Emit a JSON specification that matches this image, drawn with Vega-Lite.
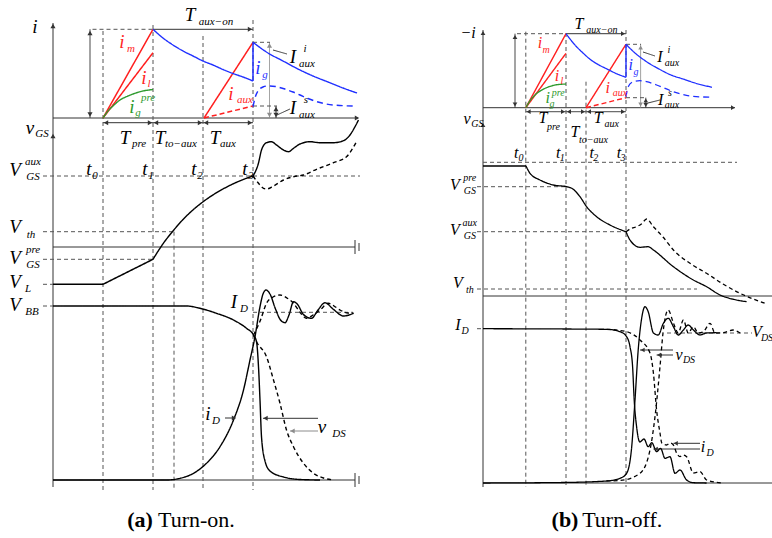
{
"$schema":"https://vega.github.io/schema/vega-lite/v6.json",
"padding":0,"spacing":65,"background":"white",
"config":{"view":{"stroke":null}},
"datasets":{
"aSeg":[
{"x":0,"y":46,"x2":0,"y2":-0.4,"s":"ax"},{"x":0,"y":36.5,"x2":6.1,"y2":36.5,"s":"ax"},{"x":0,"y":23.6,"x2":6.04,"y2":23.6,"s":"ax"},
{"x":6.04,"y":24.3,"x2":6.04,"y2":22.9,"s":"ax"},{"x":6.12,"y":24.0,"x2":6.12,"y2":23.2,"s":"ax"},
{"x":0,"y":0.3,"x2":6.04,"y2":0.3,"s":"ax"},{"x":6.04,"y":1.0,"x2":6.04,"y2":-0.4,"s":"ax"},{"x":6.12,"y":0.7,"x2":6.12,"y2":-0.1,"s":"ax"},
{"x":0.74,"y":45.37,"x2":0.74,"y2":36.5,"s":"ax"},{"x":2,"y":45.37,"x2":4,"y2":45.37,"s":"ax"},{"x":1,"y":36.03,"x2":4,"y2":36.03,"s":"ax"},
{"x":3.44,"y":6.5,"x2":3.64,"y2":6.5,"s":"ax"},{"x":5.3,"y":6.47,"x2":4.2,"y2":6.47,"s":"ax"},{"x":5.3,"y":5.2,"x2":4.74,"y2":5.2,"s":"gray"},
{"x":4.4,"y":43.3,"x2":4.68,"y2":42.9,"s":"ax"},{"x":4.48,"y":36.8,"x2":4.74,"y2":37.4,"s":"ax"},
{"x":4.33,"y":44.07,"x2":4.33,"y2":36.5,"s":"gray"},{"x":4.46,"y":37.7,"x2":4.46,"y2":36.5,"s":"ax"},
{"x":1,"y":45.2,"x2":1,"y2":-0.7,"s":"gd"},{"x":2,"y":45.8,"x2":2,"y2":-0.7,"s":"gd"},{"x":2.42,"y":25.13,"x2":2.42,"y2":-0.7,"s":"gd"},
{"x":3,"y":44.7,"x2":3,"y2":-0.7,"s":"gd"},{"x":4,"y":46.3,"x2":4,"y2":-0.7,"s":"gd"},
{"x":0.79,"y":45.37,"x2":2,"y2":45.37,"s":"gd"},{"x":-0.2,"y":30.7,"x2":6.14,"y2":30.7,"s":"gd"},{"x":-0.2,"y":25.13,"x2":2.42,"y2":25.13,"s":"gd"},
{"x":-0.2,"y":22.37,"x2":2,"y2":22.37,"s":"gd"},{"x":-0.2,"y":19.87,"x2":0,"y2":19.87,"s":"gd"},{"x":-0.2,"y":17.7,"x2":0,"y2":17.7,"s":"gd"},
{"x":4,"y":17.07,"x2":6.0,"y2":17.07,"s":"gd"},{"x":4,"y":44.07,"x2":4.34,"y2":44.07,"s":"gd"},{"x":4,"y":37.7,"x2":4.48,"y2":37.7,"s":"gd"}
],
"aSig":[
{"x":1,"y":36.5,"x2":2,"y2":45.37,"s":"red"},{"x":1,"y":36.5,"x2":2,"y2":43.03,"s":"red"},{"x":3.02,"y":36.5,"x2":4,"y2":44.07,"s":"red"},
{"x":3.02,"y":36.5,"x2":4,"y2":37.7,"s":"rd"},{"x":4,"y":40.2,"x2":4,"y2":44.07,"s":"blue"},
{"x":0,"y":19.87,"x2":1,"y2":19.87,"s":"cv"},{"x":1,"y":19.87,"x2":2,"y2":22.37,"s":"cv"}
],
"aCur":[
{"id":"igpre","s":"grn","x":1,"y":36.5},{"id":"igpre","s":"grn","x":1.1,"y":37.2},{"id":"igpre","s":"grn","x":1.2,"y":37.7},{"id":"igpre","s":"grn","x":1.34,"y":38.3},{"id":"igpre","s":"grn","x":1.5,"y":38.7},{"id":"igpre","s":"grn","x":1.6,"y":38.9},{"id":"igpre","s":"grn","x":1.8,"y":39.2},{"id":"igpre","s":"grn","x":2,"y":39.35},
{"id":"ig1","s":"blue","x":2,"y":45.37},{"id":"ig1","s":"blue","x":2.2,"y":44.5},{"id":"ig1","s":"blue","x":2.4,"y":43.8},{"id":"ig1","s":"blue","x":2.6,"y":43.2},{"id":"ig1","s":"blue","x":2.8,"y":42.7},{"id":"ig1","s":"blue","x":3.0,"y":42.2},{"id":"ig1","s":"blue","x":3.2,"y":41.8},{"id":"ig1","s":"blue","x":3.4,"y":41.35},{"id":"ig1","s":"blue","x":3.6,"y":40.95},{"id":"ig1","s":"blue","x":3.8,"y":40.6},{"id":"ig1","s":"blue","x":4,"y":40.2},
{"id":"ig2","s":"blue","x":4,"y":44.07},{"id":"ig2","s":"blue","x":4.3,"y":43.0},{"id":"ig2","s":"blue","x":4.6,"y":42.2},{"id":"ig2","s":"blue","x":4.9,"y":41.4},{"id":"ig2","s":"blue","x":5.2,"y":40.7},{"id":"ig2","s":"blue","x":5.5,"y":40.1},{"id":"ig2","s":"blue","x":5.8,"y":39.5},{"id":"ig2","s":"blue","x":6.08,"y":39.0},
{"id":"igd","s":"bd","x":4,"y":37.63},{"id":"igd","s":"bd","x":4.04,"y":38.5},{"id":"igd","s":"bd","x":4.1,"y":39.2},{"id":"igd","s":"bd","x":4.2,"y":39.6},{"id":"igd","s":"bd","x":4.3,"y":39.7},{"id":"igd","s":"bd","x":4.45,"y":39.65},{"id":"igd","s":"bd","x":4.6,"y":39.45},{"id":"igd","s":"bd","x":4.8,"y":39.1},{"id":"igd","s":"bd","x":4.94,"y":38.8},{"id":"igd","s":"bd","x":5.1,"y":38.45},{"id":"igd","s":"bd","x":5.28,"y":38.13},{"id":"igd","s":"bd","x":5.6,"y":37.8},{"id":"igd","s":"bd","x":6.0,"y":37.7},
{"id":"vgs","s":"cv","x":2,"y":22.37},{"id":"vgs","s":"cv","x":2.1,"y":23.17},{"id":"vgs","s":"cv","x":2.2,"y":23.92},{"id":"vgs","s":"cv","x":2.4,"y":25.2},{"id":"vgs","s":"cv","x":2.6,"y":26.35},{"id":"vgs","s":"cv","x":2.8,"y":27.31},{"id":"vgs","s":"cv","x":3.0,"y":28.12},{"id":"vgs","s":"cv","x":3.2,"y":28.81},{"id":"vgs","s":"cv","x":3.4,"y":29.4},{"id":"vgs","s":"cv","x":3.6,"y":29.91},{"id":"vgs","s":"cv","x":3.8,"y":30.34},{"id":"vgs","s":"cv","x":4,"y":30.7},
{"id":"vgs2","s":"cv","x":4,"y":30.7},{"id":"vgs2","s":"cv","x":4.11,"y":32.0},{"id":"vgs2","s":"cv","x":4.17,"y":33.3},{"id":"vgs2","s":"cv","x":4.27,"y":34.03},{"id":"vgs2","s":"cv","x":4.37,"y":34.13},{"id":"vgs2","s":"cv","x":4.47,"y":33.8},{"id":"vgs2","s":"cv","x":4.61,"y":33.3},{"id":"vgs2","s":"cv","x":4.71,"y":33.13},{"id":"vgs2","s":"cv","x":4.81,"y":33.47},{"id":"vgs2","s":"cv","x":4.94,"y":33.9},{"id":"vgs2","s":"cv","x":5.14,"y":34.13},{"id":"vgs2","s":"cv","x":5.34,"y":34.03},{"id":"vgs2","s":"cv","x":5.61,"y":34.03},{"id":"vgs2","s":"cv","x":5.81,"y":34.23},{"id":"vgs2","s":"cv","x":5.94,"y":34.8},{"id":"vgs2","s":"cv","x":6.04,"y":35.63},{"id":"vgs2","s":"cv","x":6.11,"y":36.3},
{"id":"vgsd","s":"cd","x":4,"y":30.7},{"id":"vgsd","s":"cd","x":4.11,"y":29.97},{"id":"vgsd","s":"cd","x":4.21,"y":29.47},{"id":"vgsd","s":"cd","x":4.27,"y":29.4},{"id":"vgsd","s":"cd","x":4.41,"y":29.7},{"id":"vgsd","s":"cd","x":4.61,"y":30.3},{"id":"vgsd","s":"cd","x":4.81,"y":30.63},{"id":"vgsd","s":"cd","x":5.01,"y":30.8},{"id":"vgsd","s":"cd","x":5.27,"y":31.37},{"id":"vgsd","s":"cd","x":5.61,"y":32.03},{"id":"vgsd","s":"cd","x":5.87,"y":32.63},{"id":"vgsd","s":"cd","x":6.07,"y":34.13},
{"id":"vds","s":"cv","x":0,"y":17.7},{"id":"vds","s":"cv","x":2.67,"y":17.7},{"id":"vds","s":"cv","x":2.94,"y":17.47},{"id":"vds","s":"cv","x":3.27,"y":16.97},{"id":"vds","s":"cv","x":3.61,"y":16.3},{"id":"vds","s":"cv","x":3.87,"y":15.47},{"id":"vds","s":"cv","x":4.01,"y":14.8},{"id":"vds","s":"cv","x":4.07,"y":14.13},{"id":"vds","s":"cv","x":4.11,"y":11.63},{"id":"vds","s":"cv","x":4.14,"y":8.3},{"id":"vds","s":"cv","x":4.17,"y":4.63},{"id":"vds","s":"cv","x":4.24,"y":2.2},{"id":"vds","s":"cv","x":4.34,"y":1.2},{"id":"vds","s":"cv","x":4.61,"y":0.6},{"id":"vds","s":"cv","x":4.94,"y":0.35},{"id":"vds","s":"cv","x":5.34,"y":0.3},
{"id":"vdsd","s":"cd","x":4.01,"y":14.8},{"id":"vdsd","s":"cd","x":4.07,"y":14.13},{"id":"vdsd","s":"cd","x":4.27,"y":12.63},{"id":"vdsd","s":"cd","x":4.41,"y":10.3},{"id":"vdsd","s":"cd","x":4.54,"y":7.97},{"id":"vdsd","s":"cd","x":4.67,"y":5.3},{"id":"vdsd","s":"cd","x":4.81,"y":3.63},{"id":"vdsd","s":"cd","x":5.01,"y":1.97},{"id":"vdsd","s":"cd","x":5.21,"y":0.97},{"id":"vdsd","s":"cd","x":5.41,"y":0.5},{"id":"vdsd","s":"cd","x":5.61,"y":0.3},
{"id":"id","s":"cv","x":0,"y":0.3},{"id":"id","s":"cv","x":2.27,"y":0.3},{"id":"id","s":"cv","x":2.54,"y":0.47},{"id":"id","s":"cv","x":2.81,"y":0.97},{"id":"id","s":"cv","x":3.07,"y":1.97},{"id":"id","s":"cv","x":3.34,"y":3.63},{"id":"id","s":"cv","x":3.61,"y":6.3},{"id":"id","s":"cv","x":3.81,"y":9.3},{"id":"id","s":"cv","x":3.94,"y":12.3},{"id":"id","s":"cv","x":4.04,"y":14.63},{"id":"id","s":"cv","x":4.14,"y":17.63},{"id":"id","s":"cv","x":4.2,"y":18.9},{"id":"id","s":"cv","x":4.26,"y":19.3},{"id":"id","s":"cv","x":4.34,"y":18.9},{"id":"id","s":"cv","x":4.45,"y":17.4},{"id":"id","s":"cv","x":4.55,"y":16.3},{"id":"id","s":"cv","x":4.64,"y":16.03},{"id":"id","s":"cv","x":4.72,"y":16.8},{"id":"id","s":"cv","x":4.81,"y":18.13},{"id":"id","s":"cv","x":4.9,"y":17.8},{"id":"id","s":"cv","x":5.0,"y":16.9},{"id":"id","s":"cv","x":5.17,"y":16.47},{"id":"id","s":"cv","x":5.3,"y":17.3},{"id":"id","s":"cv","x":5.44,"y":18.03},{"id":"id","s":"cv","x":5.6,"y":17.4},{"id":"id","s":"cv","x":5.81,"y":16.7},{"id":"id","s":"cv","x":6.01,"y":16.97},
{"id":"idd","s":"cd","x":4.01,"y":14.8},{"id":"idd","s":"cd","x":4.15,"y":16.3},{"id":"idd","s":"cd","x":4.27,"y":17.97},{"id":"idd","s":"cd","x":4.4,"y":18.6},{"id":"idd","s":"cd","x":4.54,"y":18.8},{"id":"idd","s":"cd","x":4.68,"y":18.5},{"id":"idd","s":"cd","x":4.81,"y":17.97},{"id":"idd","s":"cd","x":4.95,"y":17.0},{"id":"idd","s":"cd","x":5.07,"y":16.47},{"id":"idd","s":"cd","x":5.2,"y":16.8},{"id":"idd","s":"cd","x":5.34,"y":17.3},{"id":"idd","s":"cd","x":5.51,"y":17.97},{"id":"idd","s":"cd","x":5.62,"y":17.7},{"id":"idd","s":"cd","x":5.74,"y":17.3},{"id":"idd","s":"cd","x":5.9,"y":17.0},{"id":"idd","s":"cd","x":6.01,"y":16.97}
],
"aArr":[
{"x":0,"y":45.7,"d":"u","s":"ax"},{"x":0,"y":34.7,"d":"u","s":"ax"},{"x":6.08,"y":36.5,"d":"r","s":"ax"},
{"x":0.74,"y":45.0,"d":"u","s":"ax"},{"x":0.74,"y":36.85,"d":"d","s":"ax"},{"x":3.94,"y":45.37,"d":"r","s":"ax"},
{"x":1.06,"y":36.03,"d":"l","s":"ax"},{"x":1.94,"y":36.03,"d":"r","s":"ax"},{"x":2.06,"y":36.03,"d":"l","s":"ax"},{"x":2.94,"y":36.03,"d":"r","s":"ax"},{"x":3.06,"y":36.03,"d":"l","s":"ax"},{"x":3.94,"y":36.03,"d":"r","s":"ax"},
{"x":4.33,"y":43.75,"d":"u","s":"gray"},{"x":4.33,"y":36.8,"d":"d","s":"gray"},{"x":4.46,"y":37.4,"d":"u","s":"ax"},{"x":4.46,"y":36.8,"d":"d","s":"ax"},
{"x":3.62,"y":6.5,"d":"r","s":"ax"},{"x":4.25,"y":6.47,"d":"l","s":"ax"},{"x":4.79,"y":5.2,"d":"l","s":"gray"}
],
"aTxt":[
{"x":-0.36,"y":45.6,"t":"i","r":"m","s":"cv"},
{"x":-0.46,"y":35.5,"t":"v","r":"m","s":"cv"},{"x":-0.22,"y":34.9,"t":"GS","r":"s","s":"cv"},
{"x":-0.76,"y":31.3,"t":"V","r":"m","s":"cv"},{"x":-0.4,"y":32.1,"t":"aux","r":"s","s":"cv"},{"x":-0.4,"y":30.6,"t":"GS","r":"s","s":"cv"},
{"x":0.72,"y":31.4,"t":"t","r":"m","s":"cv"},{"x":0.84,"y":30.7,"t":"0","r":"s","s":"cv"},
{"x":1.84,"y":31.4,"t":"t","r":"m","s":"cv"},{"x":1.96,"y":30.7,"t":"1","r":"s","s":"cv"},
{"x":2.82,"y":31.4,"t":"t","r":"m","s":"cv"},{"x":2.94,"y":30.7,"t":"2","r":"s","s":"cv"},
{"x":3.84,"y":31.4,"t":"t","r":"m","s":"cv"},{"x":3.96,"y":30.7,"t":"3","r":"s","s":"cv"},
{"x":-0.76,"y":25.6,"t":"V","r":"m","s":"cv"},{"x":-0.44,"y":24.8,"t":"th","r":"s","s":"cv"},
{"x":-0.76,"y":22.5,"t":"V","r":"m","s":"cv"},{"x":-0.4,"y":23.3,"t":"pre","r":"s","s":"cv"},{"x":-0.4,"y":21.8,"t":"GS","r":"s","s":"cv"},
{"x":-0.76,"y":20.1,"t":"V","r":"m","s":"cv"},{"x":-0.5,"y":19.4,"t":"L","r":"s","s":"cv"},
{"x":-0.76,"y":17.8,"t":"V","r":"m","s":"cv"},{"x":-0.42,"y":17.1,"t":"BB","r":"s","s":"cv"},
{"x":3.62,"y":18.1,"t":"I","r":"m","s":"cv"},{"x":3.82,"y":17.4,"t":"D","r":"s","s":"cv"},
{"x":3.1,"y":6.9,"t":"i","r":"m","s":"cv"},{"x":3.26,"y":6.2,"t":"D","r":"s","s":"cv"},
{"x":5.38,"y":5.6,"t":"v","r":"m","s":"cv"},{"x":5.72,"y":4.9,"t":"DS","r":"s","s":"cv"},
{"x":1.38,"y":44.1,"t":"i","r":"m","s":"red"},{"x":1.56,"y":43.4,"t":"m","r":"s","s":"red"},
{"x":1.82,"y":40.5,"t":"i","r":"m","s":"red"},{"x":1.92,"y":39.9,"t":"l","r":"s","s":"red"},
{"x":1.58,"y":37.6,"t":"i","r":"m","s":"grn"},{"x":1.7,"y":37.0,"t":"g","r":"s","s":"grn"},{"x":1.9,"y":38.5,"t":"pre","r":"s","s":"grn"},
{"x":4.1,"y":41.5,"t":"i","r":"m","s":"blue"},{"x":4.24,"y":40.8,"t":"g","r":"s","s":"blue"},
{"x":3.56,"y":38.9,"t":"i","r":"m","s":"red"},{"x":3.84,"y":38.3,"t":"aux","r":"s","s":"red"},
{"x":4.8,"y":42.6,"t":"I","r":"m","s":"cv"},{"x":5.04,"y":43.4,"t":"i","r":"s","s":"cv"},{"x":5.08,"y":41.9,"t":"aux","r":"s","s":"cv"},
{"x":4.8,"y":37.5,"t":"I","r":"m","s":"cv"},{"x":5.06,"y":38.3,"t":"s","r":"s","s":"cv"},{"x":5.08,"y":36.8,"t":"aux","r":"s","s":"cv"},
{"x":2.74,"y":46.8,"t":"T","r":"m","s":"cv"},{"x":3.26,"y":46.1,"t":"aux−on","r":"s","s":"cv"},
{"x":1.44,"y":34.5,"t":"T","r":"m","s":"cv"},{"x":1.72,"y":33.9,"t":"pre","r":"s","s":"cv"},
{"x":2.14,"y":34.5,"t":"T","r":"m","s":"cv"},{"x":2.56,"y":33.9,"t":"to−aux","r":"s","s":"cv"},
{"x":3.24,"y":34.5,"t":"T","r":"m","s":"cv"},{"x":3.5,"y":33.9,"t":"aux","r":"s","s":"cv"},
{"x":1.74,"y":-3.7,"t":"(a)","r":"b","s":"cv"},{"x":2.1,"y":-3.7,"t":"Turn-on.","r":"c","s":"cv"}
],
"bSeg":[
{"x":0,"y":45.3,"x2":0,"y2":-0.4,"s":"ax"},{"x":0,"y":37.53,"x2":6.3,"y2":37.53,"s":"ax"},{"x":0,"y":18.7,"x2":7.225,"y2":18.7,"s":"ax"},{"x":0,"y":0,"x2":7.225,"y2":0,"s":"ax"},
{"x":0.8,"y":44.93,"x2":0.8,"y2":37.53,"s":"ax"},{"x":2.075,"y":44.93,"x2":3.575,"y2":44.93,"s":"ax"},{"x":1.07,"y":37.13,"x2":3.575,"y2":37.13,"s":"ax"},
{"x":3.94,"y":43.87,"x2":3.94,"y2":37.53,"s":"gray"},{"x":4.07,"y":38.53,"x2":4.07,"y2":37.53,"s":"ax"},
{"x":4.0,"y":43.1,"x2":4.3,"y2":42.7,"s":"ax"},{"x":4.125,"y":38.0,"x2":4.425,"y2":38.3,"s":"ax"},
{"x":4.75,"y":13.3,"x2":3.925,"y2":13.3,"s":"ax"},{"x":4.75,"y":12.8,"x2":4.34,"y2":12.8,"s":"ax"},
{"x":5.425,"y":3.97,"x2":4.76,"y2":3.97,"s":"ax"},{"x":5.425,"y":3.4,"x2":4.26,"y2":3.4,"s":"ax"},
{"x":1.07,"y":45.13,"x2":1.07,"y2":-0.4,"s":"gd"},{"x":2.075,"y":45.0,"x2":2.075,"y2":-0.4,"s":"gd"},{"x":2.575,"y":40.13,"x2":2.575,"y2":-0.4,"s":"gd"},{"x":3.575,"y":45.3,"x2":3.575,"y2":-0.4,"s":"gd"},
{"x":0.85,"y":44.93,"x2":2.075,"y2":44.93,"s":"gd"},{"x":0,"y":32.07,"x2":6.35,"y2":32.07,"s":"gd"},{"x":-0.15,"y":29.63,"x2":2.075,"y2":29.63,"s":"gd"},
{"x":-0.15,"y":25.13,"x2":3.575,"y2":25.13,"s":"gd"},{"x":-0.15,"y":19.4,"x2":5.35,"y2":19.4,"s":"gd"},{"x":-0.15,"y":15.43,"x2":0,"y2":15.43,"s":"gd"},
{"x":4.6,"y":15.0,"x2":6.725,"y2":15.0,"s":"gd"},{"x":3.575,"y":43.87,"x2":3.95,"y2":43.87,"s":"gd"},{"x":3.575,"y":38.53,"x2":4.075,"y2":38.53,"s":"gd"}
],
"bSig":[
{"x":1.07,"y":37.53,"x2":2.075,"y2":44.93,"s":"red"},{"x":1.07,"y":37.53,"x2":2.075,"y2":42.97,"s":"red"},{"x":2.575,"y":37.53,"x2":3.575,"y2":43.87,"s":"red"},
{"x":2.575,"y":37.53,"x2":3.575,"y2":38.53,"s":"rd"},{"x":3.575,"y":40.57,"x2":3.575,"y2":43.87,"s":"blue"},{"x":0,"y":31.7,"x2":1.075,"y2":31.7,"s":"cv"}
],
"bCur":[
{"id":"igpre","s":"grn","x":1.07,"y":37.53},{"id":"igpre","s":"grn","x":1.17,"y":38.2},{"id":"igpre","s":"grn","x":1.3,"y":38.8},{"id":"igpre","s":"grn","x":1.45,"y":39.25},{"id":"igpre","s":"grn","x":1.6,"y":39.55},{"id":"igpre","s":"grn","x":1.8,"y":39.8},{"id":"igpre","s":"grn","x":2.075,"y":39.9},
{"id":"ig1","s":"blue","x":2.075,"y":44.93},{"id":"ig1","s":"blue","x":2.3,"y":43.8},{"id":"ig1","s":"blue","x":2.5,"y":43.0},{"id":"ig1","s":"blue","x":2.7,"y":42.3},{"id":"ig1","s":"blue","x":2.9,"y":41.8},{"id":"ig1","s":"blue","x":3.1,"y":41.4},{"id":"ig1","s":"blue","x":3.3,"y":41.0},{"id":"ig1","s":"blue","x":3.575,"y":40.57},
{"id":"ig2","s":"blue","x":3.575,"y":43.87},{"id":"ig2","s":"blue","x":3.8,"y":43.0},{"id":"ig2","s":"blue","x":4.1,"y":42.1},{"id":"ig2","s":"blue","x":4.4,"y":41.4},{"id":"ig2","s":"blue","x":4.7,"y":40.8},{"id":"ig2","s":"blue","x":5.0,"y":40.4},{"id":"ig2","s":"blue","x":5.3,"y":40.0},{"id":"ig2","s":"blue","x":5.725,"y":39.57},
{"id":"igd","s":"bd","x":3.575,"y":38.63},{"id":"igd","s":"bd","x":3.63,"y":39.63},{"id":"igd","s":"bd","x":3.76,"y":40.13},{"id":"igd","s":"bd","x":3.925,"y":40.23},{"id":"igd","s":"bd","x":4.09,"y":40.13},{"id":"igd","s":"bd","x":4.34,"y":39.8},{"id":"igd","s":"bd","x":4.76,"y":39.13},{"id":"igd","s":"bd","x":5.175,"y":38.7},{"id":"igd","s":"bd","x":5.725,"y":38.57},
{"id":"vgs","s":"cv","x":1.075,"y":31.7},{"id":"vgs","s":"cv","x":1.175,"y":30.97},{"id":"vgs","s":"cv","x":1.425,"y":30.3},{"id":"vgs","s":"cv","x":1.76,"y":29.8},{"id":"vgs","s":"cv","x":2.09,"y":29.63},{"id":"vgs","s":"cv","x":2.22,"y":29.47},{"id":"vgs","s":"cv","x":2.425,"y":28.63},{"id":"vgs","s":"cv","x":2.59,"y":27.63},{"id":"vgs","s":"cv","x":2.84,"y":26.63},{"id":"vgs","s":"cv","x":3.175,"y":25.8},{"id":"vgs","s":"cv","x":3.575,"y":25.13},
{"id":"vgs2","s":"cv","x":3.575,"y":25.13},{"id":"vgs2","s":"cv","x":3.675,"y":24.3},{"id":"vgs2","s":"cv","x":3.925,"y":23.57},{"id":"vgs2","s":"cv","x":4.13,"y":23.63},{"id":"vgs2","s":"cv","x":4.26,"y":23.3},{"id":"vgs2","s":"cv","x":4.76,"y":21.63},{"id":"vgs2","s":"cv","x":5.26,"y":20.3},{"id":"vgs2","s":"cv","x":5.59,"y":19.63},{"id":"vgs2","s":"cv","x":5.925,"y":18.8},{"id":"vgs2","s":"cv","x":6.26,"y":18.37},{"id":"vgs2","s":"cv","x":6.59,"y":18.13},
{"id":"vgsd","s":"cd","x":3.575,"y":25.13},{"id":"vgsd","s":"cd","x":3.7,"y":25.45},{"id":"vgsd","s":"cd","x":3.84,"y":25.63},{"id":"vgsd","s":"cd","x":3.96,"y":25.9},{"id":"vgsd","s":"cd","x":4.09,"y":26.4},{"id":"vgsd","s":"cd","x":4.26,"y":25.63},{"id":"vgsd","s":"cd","x":4.5,"y":24.6},{"id":"vgsd","s":"cd","x":4.76,"y":23.3},{"id":"vgsd","s":"cd","x":5.2,"y":21.9},{"id":"vgsd","s":"cd","x":5.59,"y":20.97},{"id":"vgsd","s":"cd","x":6.0,"y":19.9},{"id":"vgsd","s":"cd","x":6.425,"y":18.97},{"id":"vgsd","s":"cd","x":7.05,"y":17.97},
{"id":"id","s":"cv","x":0,"y":15.43},{"id":"id","s":"cv","x":3.09,"y":15.37},{"id":"id","s":"cv","x":3.425,"y":15.13},{"id":"id","s":"cv","x":3.59,"y":14.63},{"id":"id","s":"cv","x":3.675,"y":13.63},{"id":"id","s":"cv","x":3.74,"y":11.63},{"id":"id","s":"cv","x":3.78,"y":8.3},{"id":"id","s":"cv","x":3.84,"y":5.63},{"id":"id","s":"cv","x":3.92,"y":4.1},{"id":"id","s":"cv","x":4.025,"y":4.4},{"id":"id","s":"cv","x":4.13,"y":3.63},{"id":"id","s":"cv","x":4.22,"y":4.03},{"id":"id","s":"cv","x":4.34,"y":3.13},{"id":"id","s":"cv","x":4.44,"y":3.47},{"id":"id","s":"cv","x":4.55,"y":2.47},{"id":"id","s":"cv","x":4.675,"y":2.63},{"id":"id","s":"cv","x":4.8,"y":0.97},{"id":"id","s":"cv","x":4.925,"y":1.3},{"id":"id","s":"cv","x":5.09,"y":0.3},{"id":"id","s":"cv","x":5.26,"y":0.03},{"id":"id","s":"cv","x":5.59,"y":0},
{"id":"vds","s":"cv","x":0,"y":0},{"id":"vds","s":"cv","x":2.0,"y":0.05},{"id":"vds","s":"cv","x":3.09,"y":0.2},{"id":"vds","s":"cv","x":3.425,"y":0.47},{"id":"vds","s":"cv","x":3.59,"y":0.97},{"id":"vds","s":"cv","x":3.71,"y":3.3},{"id":"vds","s":"cv","x":3.8,"y":8.3},{"id":"vds","s":"cv","x":3.88,"y":13.3},{"id":"vds","s":"cv","x":3.96,"y":16.3},{"id":"vds","s":"cv","x":4.05,"y":17.63},{"id":"vds","s":"cv","x":4.13,"y":17.13},{"id":"vds","s":"cv","x":4.26,"y":15.0},{"id":"vds","s":"cv","x":4.38,"y":14.8},{"id":"vds","s":"cv","x":4.51,"y":15.97},{"id":"vds","s":"cv","x":4.63,"y":16.47},{"id":"vds","s":"cv","x":4.76,"y":15.63},{"id":"vds","s":"cv","x":4.88,"y":14.8},{"id":"vds","s":"cv","x":5.01,"y":15.3},{"id":"vds","s":"cv","x":5.13,"y":15.8},{"id":"vds","s":"cv","x":5.26,"y":15.3},{"id":"vds","s":"cv","x":5.425,"y":14.8},{"id":"vds","s":"cv","x":5.59,"y":15.0},{"id":"vds","s":"cv","x":5.84,"y":15.03},
{"id":"idd","s":"cd","x":3.09,"y":15.37},{"id":"idd","s":"cd","x":3.59,"y":15.13},{"id":"idd","s":"cd","x":3.925,"y":14.3},{"id":"idd","s":"cd","x":4.175,"y":13.0},{"id":"idd","s":"cd","x":4.26,"y":11.0},{"id":"idd","s":"cd","x":4.34,"y":7.3},{"id":"idd","s":"cd","x":4.425,"y":5.0},{"id":"idd","s":"cd","x":4.47,"y":4.0},{"id":"idd","s":"cd","x":4.59,"y":3.8},{"id":"idd","s":"cd","x":4.675,"y":4.0},{"id":"idd","s":"cd","x":4.76,"y":3.8},{"id":"idd","s":"cd","x":4.84,"y":3.0},{"id":"idd","s":"cd","x":4.925,"y":2.63},{"id":"idd","s":"cd","x":5.0,"y":2.8},{"id":"idd","s":"cd","x":5.09,"y":2.63},{"id":"idd","s":"cd","x":5.26,"y":1.0},{"id":"idd","s":"cd","x":5.425,"y":1.13},{"id":"idd","s":"cd","x":5.59,"y":0.3},{"id":"idd","s":"cd","x":6.0,"y":0},
{"id":"vdsd","s":"cd","x":3.09,"y":0.2},{"id":"vdsd","s":"cd","x":3.425,"y":0.25},{"id":"vdsd","s":"cd","x":3.925,"y":0.97},{"id":"vdsd","s":"cd","x":4.175,"y":3.3},{"id":"vdsd","s":"cd","x":4.3,"y":6.63},{"id":"vdsd","s":"cd","x":4.425,"y":11.63},{"id":"vdsd","s":"cd","x":4.5,"y":15.0},{"id":"vdsd","s":"cd","x":4.63,"y":17.3},{"id":"vdsd","s":"cd","x":4.76,"y":16.0},{"id":"vdsd","s":"cd","x":4.88,"y":15.0},{"id":"vdsd","s":"cd","x":5.01,"y":16.3},{"id":"vdsd","s":"cd","x":5.13,"y":15.0},{"id":"vdsd","s":"cd","x":5.26,"y":15.63},{"id":"vdsd","s":"cd","x":5.38,"y":15.0},{"id":"vdsd","s":"cd","x":5.51,"y":15.13},{"id":"vdsd","s":"cd","x":5.675,"y":15.97},{"id":"vdsd","s":"cd","x":5.8,"y":15.0},{"id":"vdsd","s":"cd","x":6.0,"y":15.03},{"id":"vdsd","s":"cd","x":6.25,"y":15.3},{"id":"vdsd","s":"cd","x":6.425,"y":15.0}
],
"bArr":[
{"x":0,"y":45.0,"d":"u","s":"ax"},{"x":0,"y":35.8,"d":"u","s":"ax"},{"x":6.25,"y":37.53,"d":"r","s":"ax"},
{"x":0.8,"y":44.6,"d":"u","s":"ax"},{"x":0.8,"y":37.85,"d":"d","s":"ax"},{"x":3.5,"y":44.93,"d":"r","s":"ax"},
{"x":1.14,"y":37.13,"d":"l","s":"ax"},{"x":2.0,"y":37.13,"d":"r","s":"ax"},{"x":2.15,"y":37.13,"d":"l","s":"ax"},{"x":2.5,"y":37.13,"d":"r","s":"ax"},{"x":2.65,"y":37.13,"d":"l","s":"ax"},{"x":3.5,"y":37.13,"d":"r","s":"ax"},
{"x":3.94,"y":43.55,"d":"u","s":"gray"},{"x":3.94,"y":37.85,"d":"d","s":"gray"},{"x":4.07,"y":38.25,"d":"u","s":"ax"},{"x":4.07,"y":37.8,"d":"d","s":"ax"},
{"x":3.99,"y":13.3,"d":"l","s":"ax"},{"x":4.4,"y":12.8,"d":"l","s":"ax"},{"x":4.82,"y":3.97,"d":"l","s":"ax"},{"x":4.32,"y":3.4,"d":"l","s":"ax"}
],
"bTxt":[
{"x":-0.375,"y":45.0,"t":"−i","r":"m","s":"cv"},
{"x":-0.4,"y":36.4,"t":"v","r":"m","s":"cv"},{"x":-0.14,"y":35.9,"t":"GS","r":"s","s":"cv"},
{"x":0.83,"y":33.0,"t":"t","r":"m","s":"cv"},{"x":0.95,"y":32.5,"t":"0","r":"s","s":"cv"},
{"x":1.88,"y":33.0,"t":"t","r":"m","s":"cv"},{"x":1.98,"y":32.5,"t":"1","r":"s","s":"cv"},
{"x":2.72,"y":33.0,"t":"t","r":"m","s":"cv"},{"x":2.82,"y":32.5,"t":"2","r":"s","s":"cv"},
{"x":3.4,"y":33.0,"t":"t","r":"m","s":"cv"},{"x":3.5,"y":32.5,"t":"3","r":"s","s":"cv"},
{"x":-0.7,"y":29.8,"t":"V","r":"m","s":"cv"},{"x":-0.33,"y":30.5,"t":"pre","r":"s","s":"cv"},{"x":-0.33,"y":29.2,"t":"GS","r":"s","s":"cv"},
{"x":-0.7,"y":25.3,"t":"V","r":"m","s":"cv"},{"x":-0.33,"y":26.0,"t":"aux","r":"s","s":"cv"},{"x":-0.33,"y":24.7,"t":"GS","r":"s","s":"cv"},
{"x":-0.63,"y":20.0,"t":"V","r":"m","s":"cv"},{"x":-0.33,"y":19.3,"t":"th","r":"s","s":"cv"},
{"x":-0.63,"y":15.8,"t":"I","r":"m","s":"cv"},{"x":-0.45,"y":15.2,"t":"D","r":"s","s":"cv"},
{"x":6.85,"y":15.1,"t":"V","r":"m","s":"cv"},{"x":7.1,"y":14.5,"t":"DS","r":"s","s":"cv"},
{"x":4.9,"y":12.8,"t":"v","r":"m","s":"cv"},{"x":5.15,"y":12.3,"t":"DS","r":"s","s":"cv"},
{"x":5.5,"y":3.6,"t":"i","r":"m","s":"cv"},{"x":5.68,"y":3.0,"t":"D","r":"s","s":"cv"},
{"x":1.425,"y":44.0,"t":"i","r":"m","s":"red"},{"x":1.575,"y":43.3,"t":"m","r":"s","s":"red"},
{"x":1.85,"y":40.7,"t":"i","r":"m","s":"red"},{"x":1.975,"y":40.2,"t":"l","r":"s","s":"red"},
{"x":1.62,"y":38.5,"t":"i","r":"m","s":"grn"},{"x":1.725,"y":37.9,"t":"g","r":"s","s":"grn"},{"x":1.88,"y":39.05,"t":"pre","r":"s","s":"grn"},
{"x":3.69,"y":41.8,"t":"i","r":"m","s":"blue"},{"x":3.825,"y":41.1,"t":"g","r":"s","s":"blue"},
{"x":3.12,"y":39.5,"t":"i","r":"m","s":"red"},{"x":3.425,"y":39.0,"t":"aux","r":"s","s":"red"},
{"x":4.425,"y":42.6,"t":"I","r":"m","s":"cv"},{"x":4.65,"y":43.3,"t":"i","r":"s","s":"cv"},{"x":4.725,"y":42.0,"t":"aux","r":"s","s":"cv"},
{"x":4.44,"y":38.3,"t":"I","r":"m","s":"cv"},{"x":4.675,"y":39.0,"t":"s","r":"s","s":"cv"},{"x":4.725,"y":37.8,"t":"aux","r":"s","s":"cv"},
{"x":2.4,"y":45.9,"t":"T","r":"m","s":"cv"},{"x":2.97,"y":45.3,"t":"aux−on","r":"s","s":"cv"},
{"x":1.5,"y":36.5,"t":"T","r":"m","s":"cv"},{"x":1.76,"y":35.6,"t":"pre","r":"s","s":"cv"},
{"x":2.88,"y":36.5,"t":"T","r":"m","s":"cv"},{"x":3.22,"y":35.9,"t":"aux","r":"s","s":"cv"},
{"x":2.3,"y":35.1,"t":"T","r":"m","s":"cv"},{"x":2.76,"y":34.3,"t":"to−aux","r":"s","s":"cv"},
{"x":2.05,"y":-3.7,"t":"(b)","r":"b","s":"cv"},{"x":2.48,"y":-3.7,"t":"Turn-off.","r":"c","s":"cv"}
]
},
"hconcat":[
{
"width":375,"height":538,
"encoding":{
"x":{"field":"x","type":"quantitative","scale":{"domain":[-1.06,6.44],"nice":false,"zero":false},"axis":null},
"y":{"field":"y","type":"quantitative","scale":{"domain":[-5.5,48.3],"nice":false,"zero":false},"axis":null},
"color":{"field":"s","type":"nominal","scale":{"domain":["ax","gd","cv","cd","red","rd","blue","bd","grn","gray"],"range":["#333333","#555555","#000000","#000000","#ff1f1f","#ff1f1f","#1f2fff","#1f2fff","#2e9a2e","#8c8c8c"]},"legend":null}
},
"layer":[
{"data":{"name":"aSeg"},"mark":{"type":"rule","strokeWidth":1},"encoding":{"x2":{"field":"x2"},"y2":{"field":"y2"},"strokeDash":{"field":"s","type":"nominal","scale":{"domain":["ax","gd","cv","cd","red","rd","blue","bd","grn","gray"],"range":[[1,0],[4,3],[1,0],[4,3],[1,0],[5,3],[1,0],[6,4],[1,0],[1,0]]},"legend":null}}},
{"data":{"name":"aSig"},"mark":{"type":"rule","strokeWidth":1.5},"encoding":{"x2":{"field":"x2"},"y2":{"field":"y2"},"strokeDash":{"field":"s","type":"nominal","scale":{"domain":["ax","gd","cv","cd","red","rd","blue","bd","grn","gray"],"range":[[1,0],[4,3],[1,0],[4,3],[1,0],[5,3],[1,0],[6,4],[1,0],[1,0]]},"legend":null}}},
{"data":{"name":"aCur"},"mark":{"type":"line","interpolate":"monotone","strokeWidth":1.4},"encoding":{"detail":{"field":"id"},"strokeDash":{"field":"s","type":"nominal","scale":{"domain":["ax","gd","cv","cd","red","rd","blue","bd","grn","gray"],"range":[[1,0],[4,3],[1,0],[4,3],[1,0],[5,3],[1,0],[6,4],[1,0],[1,0]]},"legend":null}}},
{"data":{"name":"aArr"},"mark":{"type":"point","filled":true,"size":26,"opacity":1},"encoding":{"shape":{"field":"d","type":"nominal","scale":{"domain":["u","d","l","r"],"range":["triangle-up","triangle-down","triangle-left","triangle-right"]},"legend":null}}},
{"data":{"name":"aTxt"},"transform":[{"filter":"datum.r==='m'"}],"mark":{"type":"text","font":"Liberation Serif","fontStyle":"italic","fontSize":19,"align":"center","baseline":"middle"},"encoding":{"text":{"field":"t"}}},
{"data":{"name":"aTxt"},"transform":[{"filter":"datum.r==='s'"}],"mark":{"type":"text","font":"Liberation Serif","fontStyle":"italic","fontSize":11,"align":"center","baseline":"middle"},"encoding":{"text":{"field":"t"}}},
{"data":{"name":"aTxt"},"transform":[{"filter":"datum.r==='c'"}],"mark":{"type":"text","font":"Liberation Serif","fontSize":22,"align":"left","baseline":"middle"},"encoding":{"text":{"field":"t"}}},
{"data":{"name":"aTxt"},"transform":[{"filter":"datum.r==='b'"}],"mark":{"type":"text","font":"Liberation Serif","fontWeight":"bold","fontSize":22,"align":"center","baseline":"middle"},"encoding":{"text":{"field":"t"}}}
]
},
{
"width":332,"height":538,
"encoding":{
"x":{"field":"x","type":"quantitative","scale":{"domain":[-1.075,7.225],"nice":false,"zero":false},"axis":null},
"y":{"field":"y","type":"quantitative","scale":{"domain":[-5.5,48.3],"nice":false,"zero":false},"axis":null},
"color":{"field":"s","type":"nominal","scale":{"domain":["ax","gd","cv","cd","red","rd","blue","bd","grn","gray"],"range":["#333333","#555555","#000000","#000000","#ff1f1f","#ff1f1f","#1f2fff","#1f2fff","#2e9a2e","#8c8c8c"]},"legend":null}
},
"layer":[
{"data":{"name":"bSeg"},"mark":{"type":"rule","strokeWidth":1},"encoding":{"x2":{"field":"x2"},"y2":{"field":"y2"},"strokeDash":{"field":"s","type":"nominal","scale":{"domain":["ax","gd","cv","cd","red","rd","blue","bd","grn","gray"],"range":[[1,0],[4,3],[1,0],[4,3],[1,0],[5,3],[1,0],[6,4],[1,0],[1,0]]},"legend":null}}},
{"data":{"name":"bSig"},"mark":{"type":"rule","strokeWidth":1.4},"encoding":{"x2":{"field":"x2"},"y2":{"field":"y2"},"strokeDash":{"field":"s","type":"nominal","scale":{"domain":["ax","gd","cv","cd","red","rd","blue","bd","grn","gray"],"range":[[1,0],[4,3],[1,0],[4,3],[1,0],[5,3],[1,0],[6,4],[1,0],[1,0]]},"legend":null}}},
{"data":{"name":"bCur"},"mark":{"type":"line","interpolate":"monotone","strokeWidth":1.3},"encoding":{"detail":{"field":"id"},"strokeDash":{"field":"s","type":"nominal","scale":{"domain":["ax","gd","cv","cd","red","rd","blue","bd","grn","gray"],"range":[[1,0],[4,3],[1,0],[4,3],[1,0],[5,3],[1,0],[6,4],[1,0],[1,0]]},"legend":null}}},
{"data":{"name":"bArr"},"mark":{"type":"point","filled":true,"size":22,"opacity":1},"encoding":{"shape":{"field":"d","type":"nominal","scale":{"domain":["u","d","l","r"],"range":["triangle-up","triangle-down","triangle-left","triangle-right"]},"legend":null}}},
{"data":{"name":"bTxt"},"transform":[{"filter":"datum.r==='m'"}],"mark":{"type":"text","font":"Liberation Serif","fontStyle":"italic","fontSize":16,"align":"center","baseline":"middle"},"encoding":{"text":{"field":"t"}}},
{"data":{"name":"bTxt"},"transform":[{"filter":"datum.r==='s'"}],"mark":{"type":"text","font":"Liberation Serif","fontStyle":"italic","fontSize":10,"align":"center","baseline":"middle"},"encoding":{"text":{"field":"t"}}},
{"data":{"name":"bTxt"},"transform":[{"filter":"datum.r==='c'"}],"mark":{"type":"text","font":"Liberation Serif","fontSize":22,"align":"left","baseline":"middle"},"encoding":{"text":{"field":"t"}}},
{"data":{"name":"bTxt"},"transform":[{"filter":"datum.r==='b'"}],"mark":{"type":"text","font":"Liberation Serif","fontWeight":"bold","fontSize":22,"align":"center","baseline":"middle"},"encoding":{"text":{"field":"t"}}}
]
}
]
}
